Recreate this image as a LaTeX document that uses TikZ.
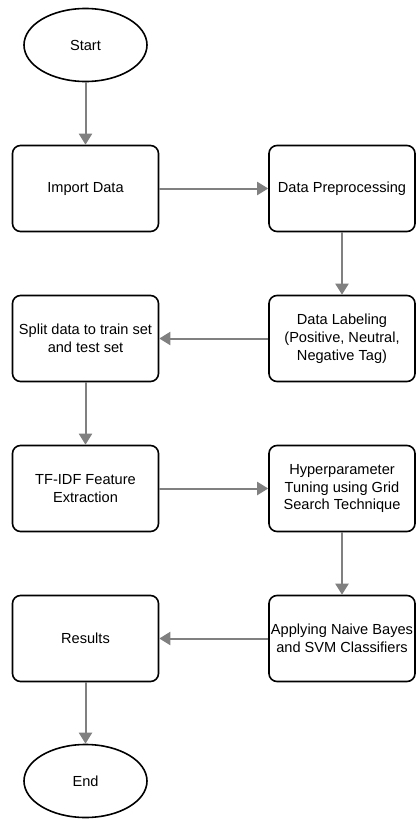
\documentclass[tikz,border=0pt]{standalone}
\usepackage{fontspec}
\setmainfont{Liberation Sans}
\usetikzlibrary{arrows.meta,shapes.geometric}
\definecolor{conncol}{HTML}{808080}
\begin{document}
\begin{tikzpicture}[x=1pt,y=-1pt,
  lbl/.style={font=\fontsize{14.6}{17.8}\selectfont},
  box/.style={lbl,draw=black,line width=1.6pt,rounded corners=8pt,minimum width=146pt,minimum height=86pt,align=center,inner sep=0pt},
  term/.style={lbl,draw=black,line width=1.6pt,ellipse,minimum width=123pt,minimum height=73pt,inner sep=0pt},
  conn/.style={draw=conncol,line width=2pt,-{Triangle[width=13pt,length=11pt]}}]
\useasboundingbox (0,0) rectangle (416,819);
\node[term] (start) at (85.5,45) {Start};
\node[box] (import) at (85.5,188.5) {Import Data};
\node[box] (prep) at (342,188.5) {Data Preprocessing};
\node[box] (label) at (342,338.5) {Data Labeling\\(Positive, Neutral,\\Negative Tag)};
\node[box] (split) at (85.5,338.5) {Split data to train set\\and test set};
\node[box] (tfidf) at (85.5,488.5) {TF-IDF Feature\\Extraction};
\node[box] (hyper) at (342,488.5) {Hyperparameter\\Tuning using Grid\\Search Technique};
\node[box] (apply) at (342,638.5) {Applying Naive Bayes\\and SVM Classifiers};
\node[box] (results) at (85.5,638.5) {Results};
\node[term] (end) at (85.5,781) {End};
\draw[conn] (start) -- (import);
\draw[conn] (import) -- (prep);
\draw[conn] (prep) -- (label);
\draw[conn] (label) -- (split);
\draw[conn] (split) -- (tfidf);
\draw[conn] (tfidf) -- (hyper);
\draw[conn] (hyper) -- (apply);
\draw[conn] (apply) -- (results);
\draw[conn] (results) -- (end);
\end{tikzpicture}
\end{document}
